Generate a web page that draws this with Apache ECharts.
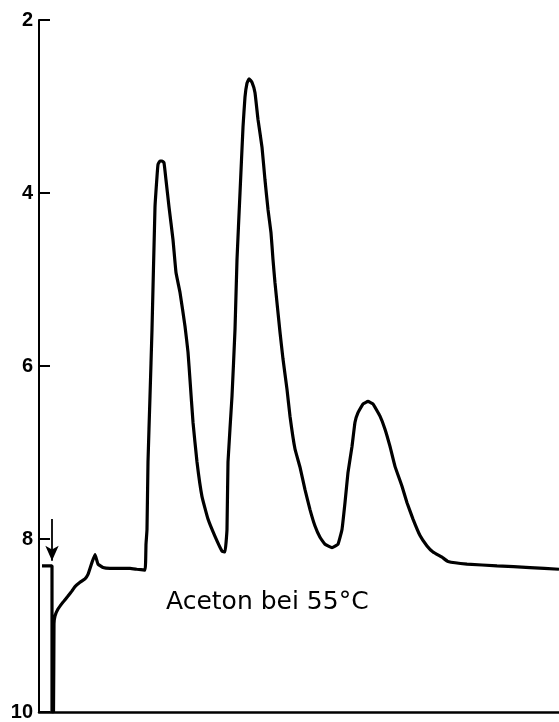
<!DOCTYPE html>
<html>
<head>
<meta charset="utf-8">
<script src="https://cdn.jsdelivr.net/npm/echarts@6/dist/echarts.min.js"></script>
<style>
  html, body { margin: 0; padding: 0; background: #fff; }
  #grafiek { width: 559px; height: 722px; }
</style>
</head>
<body>
<div id="grafiek"></div>
<script>
// tijd (willekeurige eenheid langs de x-as) en signaal (y, omgekeerde schaal)
let tijd = [3, 13, 13, 14.5, 15, 16, 19, 24, 29, 33, 36, 41, 46, 49, 53, 56, 59, 64, 71, 81, 91, 98, 106,
    107, 108, 109, 111, 113, 116, 118, 119, 121, 123, 125, 127, 130, 134, 137, 141, 146, 149, 151, 154, 158,
    163, 169, 176, 183, 186, 188, 189, 193, 196, 198, 201, 204, 206, 208, 210, 213, 216, 219, 223, 226, 229,
    232, 234, 236, 241, 244, 248, 251, 256, 261, 266, 271, 276, 281, 286, 293, 299, 303, 306, 309, 313, 316,
    319, 324, 329, 334, 341, 346, 351, 356, 363, 368, 374, 381, 388, 394, 403, 409, 428, 458, 491, 520];
let signaal = [8.31, 8.31, 10, 10, 8.98, 8.89, 8.81, 8.73, 8.66, 8.60, 8.55, 8.50, 8.46, 8.41, 8.27, 8.18, 8.29,
    8.33, 8.34, 8.34, 8.34, 8.35, 8.36,
    8.06, 7.89, 7.11, 6.35, 5.58, 4.16, 3.81, 3.67, 3.63, 3.63, 3.65, 3.85, 4.16, 4.54, 4.92, 5.15, 5.54, 5.84,
    6.16, 6.65, 7.11, 7.51, 7.77, 7.97, 8.14, 8.15, 7.89, 7.11, 6.35, 5.58, 4.77, 4.00, 3.24, 2.89, 2.73, 2.68,
    2.72, 2.84, 3.15, 3.47, 3.85, 4.19, 4.46, 4.77, 5.04, 5.61, 5.92, 6.27, 6.58, 6.96, 7.17, 7.43, 7.66, 7.85,
    7.98, 8.06, 8.10, 8.06, 7.89, 7.58, 7.23, 6.93, 6.65, 6.54, 6.44, 6.41, 6.44, 6.58, 6.73, 6.93, 7.16, 7.39,
    7.58, 7.77, 7.96, 8.08, 8.15, 8.21, 8.26, 8.29, 8.31, 8.33, 8.35];
let yTicks = [2, 4, 6, 8, 10];
let pijl = [[13, 7.77], [13, 8.25]]; // injectiepijl
let label = 'Aceton bei 55°C';

function toonGrafiek() {
    let grafiek = echarts.init(document.getElementById('grafiek'));
    let data = tijd.map((t, i) => [t, signaal[i]]);
    let option = {
        backgroundColor: '#fff',
        animation: false,
        grid: { left: 39, right: 0, top: 20, bottom: 9 },
        xAxis: {
            type: 'value',
            min: 0,
            max: 520,
            axisLine: { onZero: false, lineStyle: { color: '#000', width: 2.5 } },
            axisTick: { show: false },
            axisLabel: { show: false },
            splitLine: { show: false }
        },
        yAxis: {
            type: 'value',
            inverse: true,
            min: yTicks[0],
            max: yTicks[yTicks.length - 1],
            interval: 2,
            axisLine: { show: true, lineStyle: { color: '#000', width: 2 } },
            axisTick: { show: true, inside: true, length: 11, lineStyle: { color: '#000', width: 2 } },
            axisLabel: {
                color: '#000',
                fontSize: 20,
                fontWeight: 'bold',
                fontFamily: 'sans-serif',
                margin: 6
            },
            splitLine: { show: false }
        },
        series: [
            {
                type: 'line',
                data: data,
                symbol: 'none',
                smooth: 0.1,
                lineStyle: { color: '#000', width: 3.2 },
                markLine: {
                    silent: true,
                    symbol: ['none', 'arrow'],
                    symbolSize: [10, 15],
                    label: { show: false },
                    lineStyle: { color: '#000', width: 1.8, type: 'solid' },
                    data: [[{ coord: pijl[0] }, { coord: pijl[1] }]]
                }
            }
        ],
        graphic: [
            {
                type: 'text',
                left: 166,
                top: 590,
                style: {
                    text: label,
                    fill: '#000',
                    fontSize: 25,
                    fontFamily: 'DejaVu Sans'
                }
            }
        ]
    };
    grafiek.setOption(option);
}

window.onload = function () {
    if (document.getElementById('grafiek')) {
        toonGrafiek();
    } else {
        console.error("Element #grafiek niet gevonden!");
    }
};
</script>
</body>
</html>
